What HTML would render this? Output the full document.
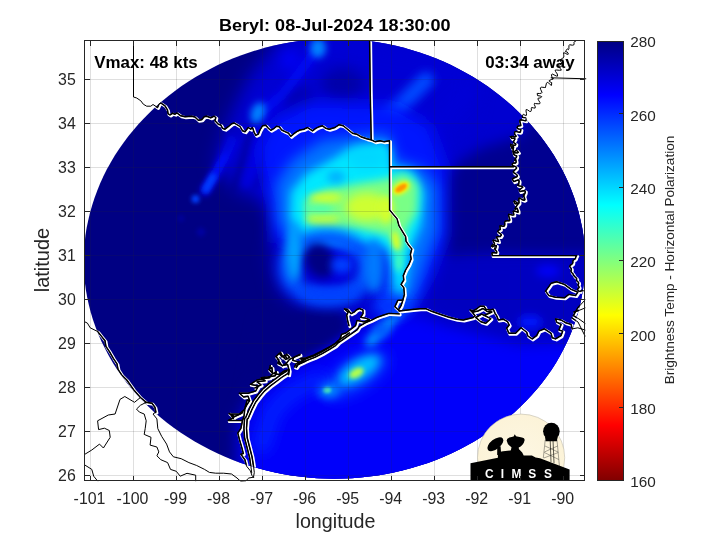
<!DOCTYPE html>
<html><head><meta charset="utf-8"><title>Beryl</title>
<style>
html,body{margin:0;padding:0;background:#fff}
body{width:720px;height:540px;overflow:hidden;font-family:"Liberation Sans",sans-serif}
svg{display:block;will-change:transform}
text{font-family:"Liberation Sans",sans-serif}
</style></head><body>
<svg width="720" height="540" viewBox="0 0 720 540">
<defs>
<clipPath id="ax"><rect x="84.5" y="40.5" width="500" height="440"/></clipPath>
<clipPath id="axo"><rect x="84" y="40" width="502.5" height="441.5"/></clipPath>
<clipPath id="logoclip"><rect x="460" y="400" width="130" height="80.5"/></clipPath>
<clipPath id="disc"><polygon points="334.4,38.8 343.1,38.9 351.8,39.3 360.4,40.0 369.1,41.0 377.7,42.2 386.2,43.7 394.6,45.5 403.0,47.6 411.3,49.9 419.5,52.4 427.5,55.2 435.5,58.3 443.3,61.6 451.0,65.1 458.6,68.9 466.0,72.9 473.2,77.1 480.3,81.5 487.2,86.1 493.9,91.0 500.4,96.0 506.8,101.2 512.9,106.6 518.8,112.2 524.5,117.9 530.0,123.8 535.3,129.9 540.3,136.1 545.1,142.5 549.7,149.0 554.0,155.6 558.1,162.4 561.9,169.3 565.4,176.3 568.7,183.5 571.6,190.7 574.3,198.0 576.7,205.4 578.8,212.8 580.6,220.4 582.2,228.0 583.4,235.6 584.2,243.3 584.8,251.0 585.1,258.7 585.0,266.4 584.7,274.1 584.0,281.8 583.0,289.5 581.6,297.2 580.0,304.8 578.1,312.3 575.8,319.8 573.2,327.2 570.4,334.5 567.2,341.7 563.7,348.8 560.0,355.8 556.0,362.7 551.7,369.4 547.1,376.0 542.3,382.4 537.2,388.7 531.9,394.8 526.3,400.8 520.5,406.6 514.5,412.2 508.2,417.6 501.8,422.8 495.1,427.8 488.3,432.5 481.3,437.1 474.1,441.5 466.8,445.6 459.3,449.5 451.6,453.2 443.8,456.7 435.9,459.9 427.9,462.9 419.7,465.6 411.5,468.1 403.1,470.3 394.7,472.2 386.2,474.0 377.7,475.4 369.1,476.6 360.5,477.5 351.8,478.2 343.1,478.6 334.4,478.7 325.7,478.6 317.0,478.2 308.3,477.5 299.7,476.6 291.1,475.4 282.6,474.0 274.1,472.2 265.7,470.3 257.3,468.1 249.1,465.6 240.9,462.9 232.9,459.9 225.0,456.7 217.2,453.2 209.5,449.5 202.0,445.6 194.7,441.5 187.5,437.1 180.5,432.5 173.7,427.8 167.0,422.8 160.6,417.6 154.3,412.2 148.3,406.6 142.5,400.8 136.9,394.8 131.6,388.7 126.5,382.4 121.7,376.0 117.1,369.4 112.8,362.7 108.8,355.8 105.1,348.8 101.6,341.7 98.4,334.5 95.6,327.2 93.0,319.8 90.7,312.3 88.8,304.8 87.2,297.2 85.8,289.5 84.8,281.8 84.1,274.1 83.8,266.4 83.7,258.7 84.0,251.0 84.6,243.3 85.4,235.6 86.6,228.0 88.2,220.4 90.0,212.8 92.1,205.4 94.5,198.0 97.2,190.7 100.1,183.5 103.4,176.3 106.9,169.3 110.7,162.4 114.8,155.6 119.1,149.0 123.7,142.5 128.5,136.1 133.5,129.9 138.8,123.8 144.3,117.9 150.0,112.2 155.9,106.6 162.0,101.2 168.4,96.0 174.9,91.0 181.6,86.1 188.5,81.5 195.6,77.1 202.8,72.9 210.2,68.9 217.8,65.1 225.5,61.6 233.3,58.3 241.3,55.2 249.3,52.4 257.5,49.9 265.8,47.6 274.2,45.5 282.6,43.7 291.1,42.2 299.7,41.0 308.4,40.0 317.0,39.3 325.7,38.9"/></clipPath>
<filter id="b1_2" x="-100%" y="-100%" width="300%" height="300%"><feGaussianBlur stdDeviation="1.2"/></filter>
<filter id="b1_8" x="-100%" y="-100%" width="300%" height="300%"><feGaussianBlur stdDeviation="1.8"/></filter>
<filter id="b2" x="-100%" y="-100%" width="300%" height="300%"><feGaussianBlur stdDeviation="2"/></filter>
<filter id="b2_2" x="-100%" y="-100%" width="300%" height="300%"><feGaussianBlur stdDeviation="2.2"/></filter>
<filter id="b2_5" x="-100%" y="-100%" width="300%" height="300%"><feGaussianBlur stdDeviation="2.5"/></filter>
<filter id="b3" x="-100%" y="-100%" width="300%" height="300%"><feGaussianBlur stdDeviation="3"/></filter>
<filter id="b3_5" x="-100%" y="-100%" width="300%" height="300%"><feGaussianBlur stdDeviation="3.5"/></filter>
<filter id="b4" x="-100%" y="-100%" width="300%" height="300%"><feGaussianBlur stdDeviation="4"/></filter>
<filter id="b4_5" x="-100%" y="-100%" width="300%" height="300%"><feGaussianBlur stdDeviation="4.5"/></filter>
<filter id="b5" x="-100%" y="-100%" width="300%" height="300%"><feGaussianBlur stdDeviation="5"/></filter>
<filter id="b6" x="-100%" y="-100%" width="300%" height="300%"><feGaussianBlur stdDeviation="6"/></filter>
<filter id="b7" x="-100%" y="-100%" width="300%" height="300%"><feGaussianBlur stdDeviation="7"/></filter>
<filter id="b8" x="-100%" y="-100%" width="300%" height="300%"><feGaussianBlur stdDeviation="8"/></filter>
<filter id="b9" x="-100%" y="-100%" width="300%" height="300%"><feGaussianBlur stdDeviation="9"/></filter>
<filter id="b10" x="-100%" y="-100%" width="300%" height="300%"><feGaussianBlur stdDeviation="10"/></filter>
<linearGradient id="cb" x1="0" y1="0" x2="0" y2="1">
<stop offset="0" stop-color="#000083"/><stop offset="0.1216" stop-color="#0000ff"/><stop offset="0.3725" stop-color="#00ffff"/><stop offset="0.6235" stop-color="#ffff00"/><stop offset="0.8745" stop-color="#ff0000"/><stop offset="1" stop-color="#800000"/>
</linearGradient>
<radialGradient id="moon" cx="0.5" cy="0.5" r="0.5"><stop offset="0" stop-color="#fdf7e3"/><stop offset="1" stop-color="#fcf3d8"/></radialGradient>
</defs>
<rect x="0" y="0" width="720" height="540" fill="#ffffff"/>
<g clip-path="url(#ax)"><g clip-path="url(#disc)">
<rect x="80" y="30" width="510" height="460" fill="#000083"/>
<polygon points="291,25 610,25 610,495 236,495 240,420 256,390 285,364 318,350 343,333 352,322 345,310 300,308 278,290 270,255 278,225 262,200 235,190 215,165 228,120 250,75" fill="#0000d0" opacity="1" filter="url(#b9)"/>
<polygon points="244,495 243,425 260,392 290,368 322,353 348,337 372,322 400,314 440,320 470,326 520,340 600,340 600,495" fill="#0000fa" opacity="1" filter="url(#b8)"/>
<polygon points="300,30 480,60 470,120 440,160 300,165 240,160 250,100" fill="#0000d8" opacity="0.6" filter="url(#b10)"/>
<polygon points="548,85 610,85 610,258 490,258 444,264 439,215 443,178 462,160 482,148 522,136" fill="#000090" opacity="1" filter="url(#b7)"/>
<polygon points="428,255 600,255 600,335 520,342 470,330 440,322 425,305" fill="#0000bf" opacity="0.9" filter="url(#b8)"/>
<polygon points="255,318 300,312 340,314 346,330 320,348 290,362 262,385 240,400" fill="#000083" opacity="1" filter="url(#b5)"/>
<ellipse cx="343" cy="84" rx="22" ry="17" transform="rotate(0 343 84)" fill="#0000a5" opacity="0.9" filter="url(#b7)"/>
<ellipse cx="298" cy="98" rx="18" ry="12" transform="rotate(0 298 98)" fill="#0000ae" opacity="0.85" filter="url(#b6)"/>
<ellipse cx="290" cy="60" rx="10" ry="10" transform="rotate(0 290 60)" fill="#0000fa" opacity="0.8" filter="url(#b6)"/>
<polyline points="377,126 400,106 426,80" fill="none" stroke="#0047ff" stroke-width="16" stroke-linecap="round" stroke-linejoin="round" opacity="1" filter="url(#b5)"/>
<ellipse cx="408" cy="154" rx="16" ry="8" transform="rotate(0 408 154)" fill="#0000b6" opacity="0.8" filter="url(#b5)"/>
<polyline points="262,112 282,95 300,72 316,50" fill="none" stroke="#000cff" stroke-width="9" stroke-linecap="round" stroke-linejoin="round" opacity="0.8" filter="url(#b4)"/>
<ellipse cx="318" cy="48" rx="8" ry="10" transform="rotate(0 318 48)" fill="#0082ff" opacity="1" filter="url(#b3_5)"/>
<ellipse cx="258" cy="113" rx="7" ry="11" transform="rotate(20 258 113)" fill="#0082ff" opacity="1" filter="url(#b3_5)"/>
<polyline points="440,120 470,90" fill="none" stroke="#0000d8" stroke-width="18" stroke-linecap="round" stroke-linejoin="round" opacity="0.6" filter="url(#b7)"/>
<polyline points="232,192 244,155 250,132" fill="none" stroke="#00008c" stroke-width="6" stroke-linecap="round" stroke-linejoin="round" opacity="0.7" filter="url(#b3)"/>
<polyline points="257,186 268,152" fill="none" stroke="#00008c" stroke-width="5" stroke-linecap="round" stroke-linejoin="round" opacity="0.6" filter="url(#b3)"/>
<polyline points="205,191 214,176 224,158 232,140" fill="none" stroke="#000cff" stroke-width="9" stroke-linecap="round" stroke-linejoin="round" opacity="1" filter="url(#b3)"/>
<polyline points="206,189 213,177" fill="none" stroke="#003fff" stroke-width="7" stroke-linecap="round" stroke-linejoin="round" opacity="1" filter="url(#b2_5)"/>
<ellipse cx="195.5" cy="199" rx="4" ry="4" transform="rotate(0 195.5 199)" fill="#003fff" opacity="1" filter="url(#b2)"/>
<polyline points="246,184 256,158 263,134" fill="none" stroke="#0000e1" stroke-width="7" stroke-linecap="round" stroke-linejoin="round" opacity="0.9" filter="url(#b3)"/>
<polyline points="268,170 278,142 286,125" fill="none" stroke="#0003ff" stroke-width="8" stroke-linecap="round" stroke-linejoin="round" opacity="0.9" filter="url(#b3_5)"/>
<ellipse cx="181" cy="218.6" rx="3" ry="3" transform="rotate(0 181 218.6)" fill="#0000ae" opacity="0.7" filter="url(#b2)"/>
<ellipse cx="201" cy="232" rx="4" ry="4" transform="rotate(0 201 232)" fill="#0000b6" opacity="0.7" filter="url(#b2_5)"/>
<polyline points="225,150 240,125" fill="none" stroke="#0000bf" stroke-width="8" stroke-linecap="round" stroke-linejoin="round" opacity="0.7" filter="url(#b4)"/>
<polygon points="272,242 271,205 264,180 258,150 272,122 310,102 395,105 430,125 447,170 447,235 432,275 415,305 395,318 380,300 385,250 300,247" fill="#0014ff" opacity="1" filter="url(#b8)"/>
<polygon points="276,184 292,160 322,140 388,133 396,160 424,169 437,186 438,230 426,262 414,298 398,316 386,300 390,264 380,250 340,248 300,246 278,224" fill="#0072ff" opacity="1" filter="url(#b7)"/>
<polygon points="291,192 306,174 345,152 388,143 391,167 413,171 424,193 421,225 410,250 404,290 397,302 392,264 388,247 340,244 305,242 290,218" fill="#00e8ff" opacity="1" filter="url(#b5)"/>
<polygon points="304,201 328,189 360,183 392,178 404,173 418,184 417,212 406,230 403,248 397,256 390,236 360,229 335,227 307,224" fill="#79ff86" opacity="1" filter="url(#b4_5)"/>
<ellipse cx="326" cy="198" rx="17" ry="5" transform="rotate(0 326 198)" fill="#ceff31" opacity="1" filter="url(#b3_5)"/>
<ellipse cx="323" cy="219" rx="17" ry="4.5" transform="rotate(0 323 219)" fill="#bdff42" opacity="1" filter="url(#b3_5)"/>
<ellipse cx="320" cy="209" rx="14" ry="3.5" transform="rotate(0 320 209)" fill="#3effc1" opacity="0.8" filter="url(#b3)"/>
<ellipse cx="367" cy="207" rx="22" ry="14" transform="rotate(0 367 207)" fill="#ceff31" opacity="1" filter="url(#b5)"/>
<ellipse cx="386" cy="210" rx="7" ry="14" transform="rotate(0 386 210)" fill="#d6ff29" opacity="1" filter="url(#b3_5)"/>
<ellipse cx="396" cy="241" rx="3.5" ry="10" transform="rotate(-12 396 241)" fill="#dfff20" opacity="1" filter="url(#b2_5)"/>
<ellipse cx="399" cy="262" rx="3.5" ry="10" transform="rotate(0 399 262)" fill="#4fffb0" opacity="1" filter="url(#b3)"/>
<ellipse cx="401" cy="188" rx="9.5" ry="5.6" transform="rotate(-32 401 188)" fill="#fff500" opacity="1" filter="url(#b2)"/>
<ellipse cx="401" cy="188" rx="6.5" ry="3.1" transform="rotate(-32 401 188)" fill="#ff9800" opacity="1" filter="url(#b1_2)"/>
<ellipse cx="336" cy="177" rx="9" ry="6" transform="rotate(0 336 177)" fill="#009cff" opacity="0.8" filter="url(#b4)"/>
<ellipse cx="367" cy="157" rx="22" ry="12" transform="rotate(0 367 157)" fill="#00d7ff" opacity="1" filter="url(#b6)"/>
<ellipse cx="327" cy="268" rx="40" ry="30" transform="rotate(0 327 268)" fill="none" stroke="#0050ff" stroke-width="17" opacity="1" filter="url(#b6)"/>
<ellipse cx="294" cy="252" rx="8" ry="30" transform="rotate(0 294 252)" fill="#00a4ff" opacity="1" filter="url(#b5)"/>
<ellipse cx="330" cy="293" rx="30" ry="7" transform="rotate(0 330 293)" fill="#003fff" opacity="1" filter="url(#b5)"/>
<ellipse cx="374" cy="266" rx="10" ry="28" transform="rotate(0 374 266)" fill="#007aff" opacity="1" filter="url(#b5)"/>
<ellipse cx="330" cy="266" rx="22" ry="16" transform="rotate(0 330 266)" fill="#0000e1" opacity="1" filter="url(#b5)"/>
<ellipse cx="320" cy="261" rx="14" ry="18" transform="rotate(-25 320 261)" fill="#000083" opacity="1" filter="url(#b4_5)"/>
<ellipse cx="342" cy="265" rx="11" ry="8" transform="rotate(0 342 265)" fill="#003fff" opacity="1" filter="url(#b4)"/>
<ellipse cx="356" cy="375" rx="36" ry="15" transform="rotate(-32 356 375)" fill="#003fff" opacity="1" filter="url(#b7)"/>
<ellipse cx="359" cy="370" rx="24" ry="10" transform="rotate(-32 359 370)" fill="#00beff" opacity="1" filter="url(#b5)"/>
<ellipse cx="356.4" cy="373" rx="8" ry="4.5" transform="rotate(-30 356.4 373)" fill="#b4ff4b" opacity="1" filter="url(#b2_2)"/>
<ellipse cx="328" cy="390" rx="11" ry="8" transform="rotate(0 328 390)" fill="#0093ff" opacity="1" filter="url(#b4)"/>
<ellipse cx="327" cy="390" rx="4" ry="3" transform="rotate(0 327 390)" fill="#4fffb0" opacity="1" filter="url(#b1_8)"/>
<polyline points="370,342 386,326 396,314" fill="none" stroke="#00a4ff" stroke-width="10" stroke-linecap="round" stroke-linejoin="round" opacity="1" filter="url(#b4)"/>
<ellipse cx="381" cy="330" rx="8" ry="6" transform="rotate(0 381 330)" fill="#0050ff" opacity="1" filter="url(#b4)"/>
<ellipse cx="392" cy="306" rx="20" ry="11" transform="rotate(0 392 306)" fill="#0036ff" opacity="1" filter="url(#b6)"/>
<polyline points="262,445 272,412 292,392 320,380" fill="none" stroke="#0025ff" stroke-width="18" stroke-linecap="round" stroke-linejoin="round" opacity="0.8" filter="url(#b7)"/>
<ellipse cx="530" cy="322" rx="12" ry="7" transform="rotate(0 530 322)" fill="#0014ff" opacity="1" filter="url(#b4)"/>
<ellipse cx="548" cy="271" rx="12" ry="6" transform="rotate(0 548 271)" fill="#0000fa" opacity="1" filter="url(#b4)"/>
</g></g>
<g stroke="#262626" stroke-opacity="0.15" stroke-width="1" shape-rendering="crispEdges">
<line x1="90.5" y1="40.5" x2="90.5" y2="480.5"/><line x1="133.5" y1="40.5" x2="133.5" y2="480.5"/><line x1="176.5" y1="40.5" x2="176.5" y2="480.5"/><line x1="219.5" y1="40.5" x2="219.5" y2="480.5"/><line x1="262.5" y1="40.5" x2="262.5" y2="480.5"/><line x1="305.5" y1="40.5" x2="305.5" y2="480.5"/><line x1="348.5" y1="40.5" x2="348.5" y2="480.5"/><line x1="391.5" y1="40.5" x2="391.5" y2="480.5"/><line x1="434.5" y1="40.5" x2="434.5" y2="480.5"/><line x1="477.5" y1="40.5" x2="477.5" y2="480.5"/><line x1="520.5" y1="40.5" x2="520.5" y2="480.5"/><line x1="563.5" y1="40.5" x2="563.5" y2="480.5"/><line x1="84.5" y1="475.5" x2="584.5" y2="475.5"/><line x1="84.5" y1="431.5" x2="584.5" y2="431.5"/><line x1="84.5" y1="387.5" x2="584.5" y2="387.5"/><line x1="84.5" y1="343.5" x2="584.5" y2="343.5"/><line x1="84.5" y1="299.5" x2="584.5" y2="299.5"/><line x1="84.5" y1="255.5" x2="584.5" y2="255.5"/><line x1="84.5" y1="211.5" x2="584.5" y2="211.5"/><line x1="84.5" y1="167.5" x2="584.5" y2="167.5"/><line x1="84.5" y1="123.5" x2="584.5" y2="123.5"/><line x1="84.5" y1="79.5" x2="584.5" y2="79.5"/>
</g>
<defs><path id="bd" d="M133.5 40.0L133.5 97.0L136.7 98.0L140.8 100.8L143.3 104.2L146.7 106.2L150.8 106.2L153.0 104.5L155.0 105.8L157.5 107.5L159.2 103.7L160.8 103.0L165.0 105.8L167.5 110.0L168.0 113.7L170.0 115.0L172.5 113.3L175.0 114.2L177.0 113.0L180.8 115.8L185.0 116.7L191.7 116.3L195.0 117.0L198.3 120.3L201.7 119.7L204.2 116.7L206.7 116.2L210.8 117.8L214.2 116.2L215.8 117.5L215.0 120.8L218.3 124.2L220.8 125.0L222.5 128.3L225.0 129.2L228.3 126.7L231.7 123.8L234.2 123.0L237.5 125.0L240.0 126.5L242.5 130.8L245.0 131.7L248.3 127.5L250.8 129.2L252.5 127.5L254.2 132.5L255.8 135.3L258.3 134.2L260.0 130.0L262.5 125.8L265.8 125.3L268.3 128.3L270.8 130.3L274.2 128.3L276.7 126.3L279.2 126.7L281.7 130.0L285.0 131.7L288.3 133.0L290.8 136.3L293.3 134.2L296.7 131.7L300.0 130.0L304.2 129.2L307.5 127.5L310.0 129.2L312.5 130.8L315.8 128.3L319.2 126.7L322.5 125.8L325.8 128.3L329.2 129.2L335.0 127.5L339.2 124.7L343.3 125.8L347.5 129.2L352.5 133.3L356.7 134.2L360.8 136.7L366.7 138.7L370.8 139.7L375.0 141.7L380.0 140.8L384.2 141.7L389.5 140.8L389.5 160.0L389.6 210.0L393.3 214.4L397.1 218.9L398.9 225.6L402.2 231.1L405.6 236.7L406.0 241.1L408.9 245.6L411.8 248.9L410.4 254.4L411.1 258.9L408.9 264.4L405.6 270.0L403.3 275.6L403.8 280.0L401.1 284.4L403.8 287.8L404.4 294.4L402.9 300.0L401.1 305.6L398.4 310.0L399.2 311.0M402.9 300.0L397.8 300.4L394.9 306.7L398.4 310.0M369.6 40.0L370.2 90.0L371.2 139.7M389.5 166.7L513.6 166.7M551.1 77.8L586.0 78.8M492.2 255.6L576.7 255.6M575.6 41.1L574.6 41.5L574.0 42.3L574.1 43.8L573.8 44.9L572.6 45.2L571.0 45.0L569.6 44.7L569.0 45.5L568.9 47.1L568.9 48.8L568.4 49.7L567.4 48.8L566.3 50.2L565.4 51.6L567.3 52.0L568.4 54.1L567.5 54.5L565.2 53.2L563.6 52.7L563.7 54.5L563.8 55.8L563.8 56.9L563.3 57.8L562.3 58.4L561.2 59.1L560.5 59.9L560.4 61.1L561.3 62.3L562.1 63.4L561.3 64.3L559.6 65.0L558.7 65.8L559.3 66.8L560.2 68.4L561.4 70.1L559.6 70.3L556.7 70.0L555.1 70.2L555.6 71.6L557.3 74.0L557.6 76.1L556.3 76.0L554.1 74.9L552.2 74.0L551.4 74.7L551.9 76.9L552.5 79.2L553.5 78.6L551.3 79.6L549.2 80.6L549.4 81.6L551.7 82.6L551.5 85.4L550.2 84.7L548.5 82.8L547.3 82.3L546.5 83.2L546.0 85.0L545.6 86.8L546.0 87.1L544.8 87.5L542.9 87.3L541.2 87.2L540.3 87.9L540.6 89.3L541.4 91.0L542.0 92.4L541.4 93.2L539.7 93.5L537.2 93.4L537.5 95.6L540.2 96.0L541.7 96.6L540.4 98.0L538.3 98.1L537.9 99.0L538.9 100.8L540.0 102.6L539.8 103.7L538.1 103.8L535.7 103.6L534.5 103.3L534.3 104.5L535.3 106.9L535.1 108.1L533.4 107.9L531.6 107.5L531.3 108.3L531.4 110.3L530.9 111.4L529.7 111.4L527.6 109.9L526.2 109.5L526.0 111.0L526.5 113.7L526.4 115.4L525.1 115.3L523.3 114.2L522.4 116.2L522.5 117.3L523.8 117.6L525.8 117.4L526.3 119.8L525.9 120.7L524.4 120.6L522.5 120.1L520.7 119.8L519.9 120.3L519.9 121.8L520.5 123.8L520.8 125.5L519.8 125.8L518.4 125.9L517.5 126.7L517.1 128.0L517.8 128.7L519.3 129.1L520.9 129.4L520.4 132.0L519.3 132.2L517.8 131.9L516.2 131.5L515.0 131.6L514.6 132.6L514.6 134.2L516.2 136.2L515.2 136.8L512.1 136.4L510.4 136.6L511.7 138.4L514.4 138.2L515.0 139.0L513.7 141.2L513.6 142.6L514.5 143.2L515.8 143.8L515.6 145.0L514.5 145.3L512.8 145.1L510.7 144.3L510.9 146.0L512.1 148.6L513.2 145.8L513.6 147.2L513.1 150.0L513.0 152.1L514.5 151.5L516.5 150.2L518.4 152.4L517.3 152.9L514.9 152.8L513.3 153.1L513.7 154.4L515.3 155.5L516.7 155.9L516.5 157.1L515.3 158.8L514.7 160.3L515.6 159.3L516.1 161.3L516.0 162.7L515.1 163.2L513.5 162.9L512.3 164.1L512.3 165.2L513.5 165.9L515.1 166.4L516.5 167.3L516.5 168.3L515.4 169.5L514.0 170.8L513.3 171.9L513.8 172.8L515.3 173.5L516.7 174.7L517.4 175.9L516.8 176.8L515.1 177.5L513.3 178.2L512.3 179.0L513.7 181.6L515.4 181.0L517.3 180.2L518.7 180.1L519.1 181.2L518.8 183.1L518.5 185.2L517.5 185.2L519.1 185.9L521.7 186.4L522.8 187.2L521.2 188.5L519.2 189.9L520.0 191.6L522.4 191.0L524.3 190.7L525.3 191.2L525.2 192.6L524.3 194.6L523.6 196.4L523.5 194.0L523.5 195.5L524.4 197.8L524.9 199.8L524.0 200.3L521.8 199.5L520.1 198.2L519.0 198.2L518.8 200.0L519.0 202.8L518.4 203.8L516.7 202.5L514.8 201.0L513.9 201.4L515.0 203.7L517.1 203.6L517.5 204.5L516.4 206.4L515.1 208.3L515.2 209.4L517.1 208.3L518.0 210.6L518.1 212.2L516.0 211.5L514.1 211.0L513.2 211.5L513.6 213.3L513.8 214.9L512.6 215.1L510.6 214.6L508.8 214.2L508.5 215.3L509.1 217.3L509.7 219.3L509.7 220.6L509.0 220.8L507.1 220.7L505.6 221.0L504.8 221.7L504.6 222.7L504.8 224.0L504.6 225.4L504.0 226.2L502.8 226.4L501.1 225.8L499.9 225.9L500.0 227.7L500.3 229.6L500.4 229.0L498.8 230.3L497.6 231.5L498.3 232.4L499.5 233.2L500.8 234.0L501.4 234.9L500.3 236.6L498.8 236.6L497.4 236.8L496.3 237.2L498.0 239.9L498.5 241.6L496.3 241.1L493.6 239.9L493.1 240.8L494.5 243.6L494.5 245.1L492.7 244.6L491.5 246.2L492.3 246.8L494.7 245.8L496.4 245.6L496.0 247.4L495.1 249.7L494.6 248.0L495.5 249.8L496.8 251.9L496.6 253.0L494.6 252.8L492.4 252.6L491.9 253.4L492.2 254.9M576.7 255.6L576.1 256.4L575.7 257.3L575.5 258.4L574.9 259.2L573.9 259.7L573.1 260.4L572.8 261.4L572.8 262.6L572.5 263.6L571.8 264.3L570.8 264.9L570.0 265.6L569.7 266.8L570.5 267.6L571.2 268.5L571.3 269.5L571.1 270.6L571.1 271.6L571.6 272.5L572.4 273.2L573.1 274.0L573.5 274.9L574.0 275.8L574.6 276.6L575.5 277.2L576.2 277.9L576.7 278.8L576.5 279.9L576.8 280.9L577.7 281.6L578.5 282.4L578.6 283.4L578.2 284.6L578.2 285.6L578.8 286.4L579.1 287.5L578.3 288.4L577.5 289.2L578.0 290.4L578.0 290.5L579.0 291.1L580.1 291.4L581.0 291.0L582.0 290.5L583.0 290.7L584.0 290.9M545.6 291.1L551.1 283.3L556.7 281.8L564.4 284.4L571.1 289.3L577.8 292.2L575.6 295.6L568.9 294.4L564.4 297.8L555.6 297.3L548.9 295.6L545.6 291.1M399.2 311.0L410.0 309.7L420.0 308.7L425.8 308.7L431.7 311.3L440.0 314.2L448.3 317.0L456.7 319.2L463.3 320.0L468.3 318.7L473.3 317.5L475.0 315.8L472.5 312.5L470.0 310.0L473.3 310.8L477.5 308.3L480.0 306.3L484.2 306.3L485.8 309.2L490.0 310.0L493.3 309.2L495.0 313.3L496.7 315.8L498.3 320.0L503.3 319.2L507.5 321.7L509.2 325.0L506.7 328.3L508.9 333.3L515.6 333.3L521.1 327.8L526.7 332.2L527.8 336.0L532.2 338.9L536.7 335.6L538.9 331.1L544.4 328.9L547.8 331.1L551.1 333.3L552.2 337.8L555.6 338.9L561.1 335.6L562.7 331.1L558.9 330.0L561.1 324.4L556.7 322.2L555.6 318.9L561.1 320.0L565.6 322.7L571.1 324.4L572.2 328.9L577.8 327.8L585.0 330.0M475.8 317.5L481.7 314.2L490.8 318.7L485.8 323.3L480.8 321.7L475.8 317.5M473.3 312.0L478.0 311.0L483.0 308.5L487.0 311.5L492.0 312.0L484.0 315.5M585.0 300.0L577.8 307.8L573.3 315.6L578.9 318.9L585.0 323.3M574.0 312.0L580.0 310.0L585.0 308.0M572.0 318.0L578.0 322.0L582.0 330.0L585.0 336.0M399.2 313.9L388.9 313.4L383.0 315.2L377.0 317.4L371.1 320.4L365.2 322.9L359.3 326.3L357.0 330.0L350.4 334.4L344.4 338.6L338.5 342.6L335.6 345.6L329.6 349.3L322.2 353.7L314.8 357.4L308.9 359.6L303.0 362.2L297.0 365.2L296.3 367.4M348.9 325.6L347.4 319.6L346.7 315.2L348.1 312.2L344.4 309.0L347.4 309.3L351.1 313.7L354.1 312.2L356.3 310.0L359.3 308.5L363.0 310.0L363.0 313.7L360.7 317.4L365.2 318.1L369.6 319.6L363.7 321.9L357.0 320.4L355.6 325.6L351.9 328.5L345.9 333.0L341.5 334.4L340.0 338.9L337.8 341.9M337.8 341.9L330.0 346.5L322.0 351.0L314.0 355.0L306.0 358.0L300.0 358.5L303.0 360.0L308.9 357.5M288.9 369.6L288.1 373.3L282.2 377.0L276.3 381.5L270.4 385.9L264.4 391.1L260.0 396.3L255.6 402.2L251.9 409.6L248.1 418.5L247.2 418.9L246.5 428.3L247.2 437.8L249.6 447.2L252.0 456.7L253.5 466.1L254.3 472.4L253.5 477.2M300.0 354.8L292.6 357.8L289.6 359.3L285.9 363.7L282.2 365.9L278.5 360.7L276.3 356.3L279.3 353.3L282.0 357.0L285.0 355.0L287.0 359.0M296.3 367.4L300.0 362.0L306.0 361.0L297.0 365.2M288.9 369.6L284.0 371.0L279.0 374.5L272.6 373.3L271.9 367.4L268.9 369.6L272.6 373.3L269.6 377.8L264.4 378.5L257.0 380.0L250.4 384.4L258.5 385.9L255.6 391.1L248.1 393.3L239.3 393.3L243.7 397.0L248.1 396.3L249.6 400.7L246.7 405.2L244.4 409.6L239.3 414.1L230.4 414.1L233.3 418.5M249.6 400.7L247.2 400.0L244.9 407.9L244.1 415.7L242.5 420.5L240.9 428.3L237.8 433.1L239.4 439.4L241.7 447.2L243.3 453.5L240.9 454.3L244.9 459.8L246.5 466.1L250.4 470.9L252.0 475.6L253.5 477.2M242.5 420.5L236.2 420.5L228.3 420.5L233.9 417.3L229.1 413.4L234.6 416.5L240.2 414.2L242.5 412.6M83.7 321.3L87.4 323.1L90.2 327.8L97.6 331.5L101.3 336.1L105.0 340.7L105.9 346.3L109.6 351.9L113.3 358.3L117.0 363.9L118.0 369.4L121.7 375.0L126.8 380.0L133.6 389.7L140.4 397.5L146.2 402.3L152.0 403.3L154.9 407.2L155.9 412.1L153.0 414.0L156.9 418.9L157.8 428.6L161.7 436.4L166.6 444.1L169.5 451.9L173.4 456.8L181.2 458.7L188.9 462.6L196.7 465.5L204.5 469.4L209.4 472.4L215.7 473.2L223.6 473.2L231.5 474.0L237.0 478.0L240.9 481.6L245.7 481.0L248.8 478.0L253.5 477.2M146.2 402.3L140.4 405.3L136.5 409.1L139.4 412.1L144.2 414.0L146.2 420.8L145.2 428.6L144.2 434.4L151.0 437.3L150.1 445.1L156.9 447.0L158.8 451.9L156.9 455.8L160.8 459.7L167.6 462.6L170.5 469.4L176.3 471.3L180.2 476.2L187.0 473.3L195.7 475.2L195.7 481.0M140.4 397.5L134.5 402.3L124.8 396.5L120.0 399.4L115.1 414.0L108.3 415.0L97.6 420.8L98.6 429.6L104.4 428.2L109.3 430.5L110.2 437.3L103.4 448.0L99.5 444.1L91.8 450.0L84.0 454.8M84.0 464.5L91.8 469.4L93.7 476.2L97.6 481.0M286.7 371.1L280.7 374.9L274.7 379.4L268.8 383.9L262.6 389.3L258.0 394.7L253.4 400.8L249.5 408.5L245.8 417.3L244.6 418.5L243.9 428.3L244.6 438.2L247.1 447.8L249.5 457.2L250.9 466.5L251.7 472.7M349.4 332.9L343.4 337.1L337.4 341.2L334.5 344.2L328.7 347.8L321.3 352.1L314.1 355.8L308.2 357.9L302.2 360.6L295.9 363.8L294.6 366.9M299.9 354.3L293.7 357.3L292.7 360.4L298.8 361.9M280.5 352.2L282.5 356.3L285.6 359.4L289.7 357.3L286.6 354.3L284.6 357.3M275.9 356.8L279.0 359.9L277.9 363.4L282.5 365.5L287.6 364.5L289.2 370.6L288.6 374.7M270.3 365.5L269.3 369.6L273.3 373.6L276.4 371.6L275.4 375.7L268.0 377.0L261.1 377.7L265.2 380.8L257.0 381.8L261.1 384.9L255.0 387.9"/></defs>
<g clip-path="url(#axo)" fill="none" stroke-linejoin="round" stroke-linecap="round">
<g clip-path="url(#disc)"><use href="#bd" transform="translate(1,1)" stroke="#ffffff" stroke-width="3"/></g>
<use href="#bd" stroke="#000000" stroke-width="1"/>
<g clip-path="url(#disc)"><use href="#bd" stroke="#000000" stroke-width="1.45"/></g>
</g>
<g clip-path="url(#logoclip)">
<g id="logo">
<circle cx="521.1" cy="457.7" r="43.6" fill="url(#moon)" stroke="#b4b0a2" stroke-width="0.5"/>
<g stroke="#3a3a36" stroke-width="0.45" fill="none">
<path d="M545.2 440 L543.3 458 M557 440 L559.4 466 M545 446 L558 452 M557.6 446 L544.4 452 M544.3 452.5 L558.8 459.5 M558.4 452.5 L543.8 458"/>
</g>
<path d="M550.2 440 L551 462 M553 440 L554 463" stroke="#15150f" stroke-width="0.7" fill="none"/>
<ellipse cx="551.4" cy="431.3" rx="8.3" ry="8.5" fill="#000"/>
<path d="M545 436.5 L557.8 436.5 L556.8 441.3 L545.6 441.3 Z" fill="#000"/>
<ellipse cx="495.4" cy="444.2" rx="9.4" ry="4.9" transform="rotate(-38 495.4 444.2)" fill="#000"/>
<path d="M506.7 440.8 Q506.4 438.6 509.5 437.6 L513.6 436.4 L514.8 434.2 L516 436.2 L522 437.6 Q525 438.2 524.6 440.2 Q523.6 445.6 517.6 448 L512.8 448 Q507.6 445.6 506.7 440.8 Z" fill="#000"/>
<path d="M497.2 446.6 L500.6 446.2 L501.2 455 L497.2 455 Z M511.6 447 L518.6 447 L519.6 453 L510.2 453 Z" fill="#000"/>
<path d="M470.5 480.5 L470.5 463.2 L497.9 457.8 L497.9 452.2 L503 451.2 L519.3 449.6 L522.2 452.4 L523.7 455.4 L531.9 455.4 L535.6 457.6 L540 458.3 L569.6 469.4 L569.6 480.5 Z" fill="#000"/>
<g fill="#fff" font-size="11.9px" font-weight="bold" text-anchor="middle">
<text x="489.4" y="477.7">C</text><text x="502.4" y="477.7">I</text><text x="516.5" y="477.7">M</text><text x="532.2" y="477.7">S</text><text x="547.9" y="477.7">S</text>
</g>
</g>
</g>
<g stroke="#262626" stroke-width="1" fill="none" shape-rendering="crispEdges">
<rect x="84.5" y="40.5" width="500" height="440"/>
<line x1="90.5" y1="480.5" x2="90.5" y2="475.5"/><line x1="90.5" y1="40.5" x2="90.5" y2="45.5"/><line x1="133.5" y1="480.5" x2="133.5" y2="475.5"/><line x1="133.5" y1="40.5" x2="133.5" y2="45.5"/><line x1="176.5" y1="480.5" x2="176.5" y2="475.5"/><line x1="176.5" y1="40.5" x2="176.5" y2="45.5"/><line x1="219.5" y1="480.5" x2="219.5" y2="475.5"/><line x1="219.5" y1="40.5" x2="219.5" y2="45.5"/><line x1="262.5" y1="480.5" x2="262.5" y2="475.5"/><line x1="262.5" y1="40.5" x2="262.5" y2="45.5"/><line x1="305.5" y1="480.5" x2="305.5" y2="475.5"/><line x1="305.5" y1="40.5" x2="305.5" y2="45.5"/><line x1="348.5" y1="480.5" x2="348.5" y2="475.5"/><line x1="348.5" y1="40.5" x2="348.5" y2="45.5"/><line x1="391.5" y1="480.5" x2="391.5" y2="475.5"/><line x1="391.5" y1="40.5" x2="391.5" y2="45.5"/><line x1="434.5" y1="480.5" x2="434.5" y2="475.5"/><line x1="434.5" y1="40.5" x2="434.5" y2="45.5"/><line x1="477.5" y1="480.5" x2="477.5" y2="475.5"/><line x1="477.5" y1="40.5" x2="477.5" y2="45.5"/><line x1="520.5" y1="480.5" x2="520.5" y2="475.5"/><line x1="520.5" y1="40.5" x2="520.5" y2="45.5"/><line x1="563.5" y1="480.5" x2="563.5" y2="475.5"/><line x1="563.5" y1="40.5" x2="563.5" y2="45.5"/><line x1="84.5" y1="475.5" x2="89.5" y2="475.5"/><line x1="584.5" y1="475.5" x2="579.5" y2="475.5"/><line x1="84.5" y1="431.5" x2="89.5" y2="431.5"/><line x1="584.5" y1="431.5" x2="579.5" y2="431.5"/><line x1="84.5" y1="387.5" x2="89.5" y2="387.5"/><line x1="584.5" y1="387.5" x2="579.5" y2="387.5"/><line x1="84.5" y1="343.5" x2="89.5" y2="343.5"/><line x1="584.5" y1="343.5" x2="579.5" y2="343.5"/><line x1="84.5" y1="299.5" x2="89.5" y2="299.5"/><line x1="584.5" y1="299.5" x2="579.5" y2="299.5"/><line x1="84.5" y1="255.5" x2="89.5" y2="255.5"/><line x1="584.5" y1="255.5" x2="579.5" y2="255.5"/><line x1="84.5" y1="211.5" x2="89.5" y2="211.5"/><line x1="584.5" y1="211.5" x2="579.5" y2="211.5"/><line x1="84.5" y1="167.5" x2="89.5" y2="167.5"/><line x1="584.5" y1="167.5" x2="579.5" y2="167.5"/><line x1="84.5" y1="123.5" x2="89.5" y2="123.5"/><line x1="584.5" y1="123.5" x2="579.5" y2="123.5"/><line x1="84.5" y1="79.5" x2="89.5" y2="79.5"/><line x1="584.5" y1="79.5" x2="579.5" y2="79.5"/>
</g>
<g fill="#262626" font-size="15.9px">
<text x="89.5" y="503.8" text-anchor="middle">-101</text><text x="132.52" y="503.8" text-anchor="middle">-100</text><text x="175.54" y="503.8" text-anchor="middle">-99</text><text x="218.56" y="503.8" text-anchor="middle">-98</text><text x="261.58" y="503.8" text-anchor="middle">-97</text><text x="304.6" y="503.8" text-anchor="middle">-96</text><text x="347.62" y="503.8" text-anchor="middle">-95</text><text x="390.64" y="503.8" text-anchor="middle">-94</text><text x="433.66" y="503.8" text-anchor="middle">-93</text><text x="476.68" y="503.8" text-anchor="middle">-92</text><text x="519.7" y="503.8" text-anchor="middle">-91</text><text x="562.72" y="503.8" text-anchor="middle">-90</text>
<text x="75.8" y="481.1" text-anchor="end">26</text><text x="75.8" y="437.1" text-anchor="end">27</text><text x="75.8" y="393.1" text-anchor="end">28</text><text x="75.8" y="349.1" text-anchor="end">29</text><text x="75.8" y="305.1" text-anchor="end">30</text><text x="75.8" y="261.1" text-anchor="end">31</text><text x="75.8" y="217.1" text-anchor="end">32</text><text x="75.8" y="173.1" text-anchor="end">33</text><text x="75.8" y="129.1" text-anchor="end">34</text><text x="75.8" y="85.1" text-anchor="end">35</text>
</g>
<text x="335.5" y="528" text-anchor="middle" font-size="19.7px" fill="#262626">longitude</text>
<text transform="translate(48.7,260) rotate(-90)" text-anchor="middle" font-size="20px" fill="#262626">latitude</text>
<text x="334.8" y="30.8" text-anchor="middle" font-size="16.4px" font-weight="bold" fill="#000" id="title" textLength="231.7" lengthAdjust="spacingAndGlyphs">Beryl: 08-Jul-2024 18:30:00</text>
<text x="94.2" y="67.6" font-size="15.6px" font-weight="bold" fill="#000" id="vmax" textLength="103.5" lengthAdjust="spacingAndGlyphs">Vmax: 48 kts</text>
<text x="485.3" y="67.5" font-size="15.6px" font-weight="bold" fill="#000" id="away" textLength="89.4" lengthAdjust="spacingAndGlyphs">03:34 away</text>
<rect x="597.5" y="41.5" width="26" height="439" fill="url(#cb)" stroke="#262626" stroke-width="1" shape-rendering="crispEdges"/>
<g stroke="#262626" stroke-width="1" shape-rendering="crispEdges"><line x1="619" y1="480.5" x2="623.5" y2="480.5"/><line x1="619" y1="407.5" x2="623.5" y2="407.5"/><line x1="619" y1="333.5" x2="623.5" y2="333.5"/><line x1="619" y1="260.5" x2="623.5" y2="260.5"/><line x1="619" y1="187.5" x2="623.5" y2="187.5"/><line x1="619" y1="113.5" x2="623.5" y2="113.5"/><line x1="619" y1="41.5" x2="623.5" y2="41.5"/></g>
<g fill="#262626" font-size="15.3px"><text x="630.2" y="487.3">160</text><text x="630.2" y="413.967">180</text><text x="630.2" y="340.633">200</text><text x="630.2" y="267.3">220</text><text x="630.2" y="193.967">240</text><text x="630.2" y="120.633">260</text><text x="630.2" y="47.3">280</text></g>
<text transform="translate(674.2,260) rotate(-90)" text-anchor="middle" font-size="13px" fill="#262626" id="cblabel" textLength="248.5" lengthAdjust="spacingAndGlyphs">Brightness Temp - Horizontal Polarization</text>
</svg>
</body></html>
